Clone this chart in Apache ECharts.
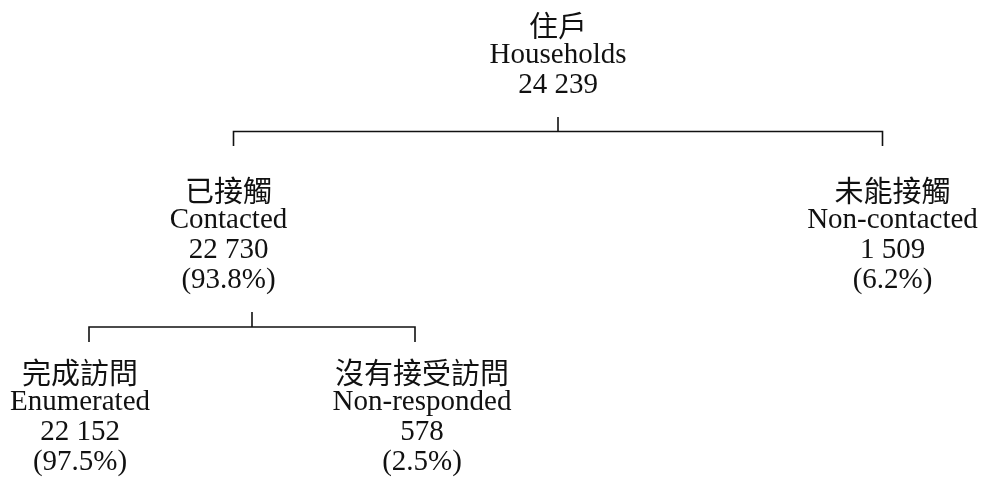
<!DOCTYPE html>
<html>
<head>
<meta charset="utf-8">
<title>Households contact tree</title>
<script src="https://cdn.jsdelivr.net/npm/echarts@6/dist/echarts.min.js"></script>
<style>
  html, body { margin: 0; padding: 0; background: #fff; }
  #chart { width: 981px; height: 492px; }
</style>
</head>
<body>
<div id="chart"></div>
<script>
// node data
const namesZh = ["住戶", "已接觸", "未能接觸", "完成訪問", "沒有接受訪問"]
const namesEn = ["Households", "Contacted", "Non-contacted", "Enumerated", "Non-responded"]
const counts = [24239, 22730, 1509, 22152, 578]
const shares = [null, 93.8, 6.2, 97.5, 2.5]
// parent index of each node (-1 = root)
const parents = [-1, 0, 0, 1, 1]

// small horizontal nudges of the labels, as in the scanned original
const labelNudge = [0, -5, 10, -9, 7]

const fmtCount = (n) => String(n).replace(/\B(?=(\d{3})+(?!\d))/g, " ")

const nodeLabel = (i) => {
  const lines = ["{zh|" + namesZh[i] + "}", "{en|" + namesEn[i] + "}", "{en|" + fmtCount(counts[i]) + "}"]
  if (shares[i] != null) lines.push("{en|(" + shares[i].toFixed(1) + "%)}")
  return lines.join("\n")
}

const richText = {
  zh: { fontFamily: "Noto Sans CJK TC", fontSize: 29, lineHeight: 30, color: "#111" },
  en: { fontFamily: "Liberation Serif", fontSize: 29, lineHeight: 30, color: "#111" }
}

// build one tree level: node i with its direct children
const buildBranch = (i, showRoot, childGap) => {
  const kids = []
  parents.forEach((p, k) => {
    if (p === i) {
      kids.push({
        name: namesEn[k],
        label: {
          position: "bottom",
          distance: childGap,
          offset: [labelNudge[k], 0],
          formatter: nodeLabel(k)
        }
      })
    }
  })
  return {
    name: namesEn[i],
    label: { show: showRoot, position: "top", distance: 16, formatter: nodeLabel(i) },
    children: kids
  }
}

const baseSeries = {
  type: "tree",
  orient: "TB",
  layout: "orthogonal",
  edgeShape: "polyline",
  edgeForkPosition: "50%",
  symbol: "rect",
  symbolSize: 1,
  itemStyle: { color: "transparent", borderWidth: 0 },
  lineStyle: { color: "#111", width: 1.6 },
  label: { rich: richText, align: "center" },
  expandAndCollapse: false,
  roam: false,
  animation: false,
  emphasis: { disabled: true }
}

const chart = echarts.init(document.getElementById("chart"))
chart.setOption({
  backgroundColor: "#fff",
  series: [
    Object.assign({}, baseSeries, {
      // root -> first level
      left: -91, right: -226, top: 117, bottom: 346,
      data: [buildBranch(0, true, 29)]
    }),
    Object.assign({}, baseSeries, {
      // contacted -> second level
      left: -74, right: 403, top: 312, bottom: 150,
      data: [buildBranch(1, false, 15)]
    })
  ]
})
</script>
</body>
</html>
